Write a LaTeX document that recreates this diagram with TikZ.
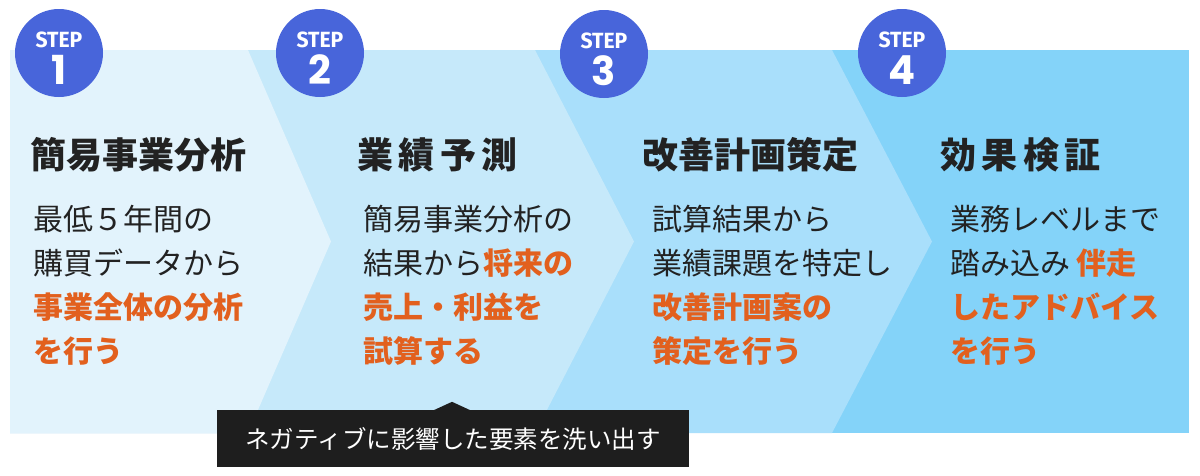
\documentclass[tikz,border=0pt]{standalone}
\usepackage{fontspec}
\newfontfamily\jp{Noto Sans CJK JP}
\newfontfamily\stepf{Fira Sans Bold}
\newfontfamily\numf{Poppins}
\definecolor{pone}{HTML}{E2F3FC}
\definecolor{ptwo}{HTML}{C6E9FA}
\definecolor{pthree}{HTML}{A9DFFB}
\definecolor{pfour}{HTML}{84D3F9}
\definecolor{circ}{HTML}{4865DA}
\definecolor{org}{HTML}{E2601E}
\definecolor{ink}{HTML}{222222}
\definecolor{tipc}{HTML}{1E1E1E}
\newcommand\hl[1]{{\bfseries\color{org}#1}}
\newcommand\ks{\kern5.5pt}
\tikzset{
  x=1pt, y=-1pt,
  titletxt/.style={anchor=base west, inner sep=0pt, font=\jp\bfseries\fontsize{36}{36}\selectfont, text=ink},
  bodytxt/.style={anchor=base west, inner sep=0pt, font=\jp\fontsize{30}{30}\selectfont, text=ink},
  stepcirc/.style={circle, fill=circ, minimum size=88pt, inner sep=0pt},
  steplbl/.style={font=\stepf\fontsize{22}{22}\selectfont, text=white, inner sep=0pt},
  stepnum/.style={font=\numf\bfseries\fontsize{40}{40}\selectfont, text=white, inner sep=0pt},
  tipbox/.style={fill=tipc, text=white, minimum width=472pt, minimum height=57pt, inner sep=0pt, font=\jp\fontsize{24.5}{24.5}\selectfont},
}
\begin{document}
\begin{tikzpicture}
\fill[white] (0,0) rectangle (1200,475);
\useasboundingbox (0,0) rectangle (1200,475);
% panels
\fill[pfour] (10,50) rectangle (1189,433);
\fill[pthree] (10,50) -- (832,50) -- (932,241.5) -- (832,433) -- (10,433) -- cycle;
\fill[ptwo] (10,50) -- (535,50) -- (634,241.5) -- (535,433) -- (10,433) -- cycle;
\fill[pone] (10,50) -- (248,50) -- (331,241.5) -- (248,433) -- (10,433) -- cycle;
% step circles
\foreach \n/\cx/\cy in {1/59/53, 2/320/53, 3/604/54, 4/902/53}{
  \node[stepcirc] (c\n) at (\cx,\cy) {};
  \node[steplbl] (sl\n) at (\cx,\cy-13.5) {\scalebox{0.96}[1]{STEP}};
  \node[stepnum] (sn\n) at (\cx,\cy+17) {\n};
}
% titles
\node[titletxt] (t1) at (30,168) {簡易事業分析};
\node[titletxt] (t2) at (357,168) {業\ks 績\ks 予\ks 測};
\node[titletxt] (t3) at (642,168) {改善計画策定};
\node[titletxt] (t4) at (940,168) {効\ks 果\ks 検\ks 証};
% step 1 body
\node[bodytxt] (a1) at (33,230) {最低５年間の};
\node[bodytxt] (a2) at (33,274) {購買データから};
\node[bodytxt] (a3) at (33,318) {\hl{事業全体の分析}};
\node[bodytxt] (a4) at (33,362) {\hl{を行う}};
% step 2 body
\node[bodytxt] (b1) at (363,230) {簡易事業分析の};
\node[bodytxt] (b2) at (363,274) {結果から\hl{将来の}};
\node[bodytxt] (b3) at (363,318) {\hl{売上・利益を}};
\node[bodytxt] (b4) at (363,362) {\hl{試算する}};
% step 3 body
\node[bodytxt] (d1) at (652,230) {試算結果から};
\node[bodytxt] (d2) at (652,274) {業績課題を特定し};
\node[bodytxt] (d3) at (652,318) {\hl{改善計画案の}};
\node[bodytxt] (d4) at (652,362) {\hl{策定を行う}};
% step 4 body
\node[bodytxt] (e1) at (950,230) {業務レベルまで};
\node[bodytxt] (e2) at (950,274) {踏み込み\kern6pt\hl{伴走}};
\node[bodytxt] (e3) at (950,318) {\hl{したアドバイス}};
\node[bodytxt] (e4) at (950,362) {\hl{を行う}};
% tooltip
\node[tipbox] (tipb) at (453,438.5) {ネガティブに影響した要素を洗い出す};
\fill[tipc] ([xshift=-19.5pt,yshift=-0.5pt]tipb.north) -- ([xshift=-1pt,yshift=8pt]tipb.north) -- ([xshift=17.5pt,yshift=-0.5pt]tipb.north) -- cycle;
\end{tikzpicture}
\end{document}
